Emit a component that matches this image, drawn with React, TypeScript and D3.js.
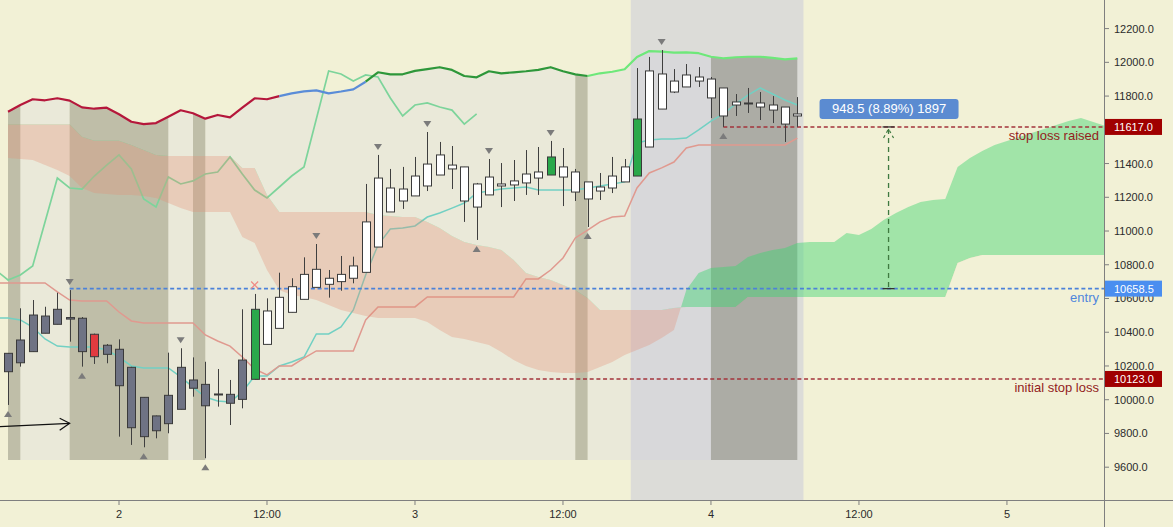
import React from 'react';
import * as d3 from 'd3';

// ---------- data ----------
// bars: one per hour, hour index 0 = day "2" 00:00
const FIRST_BAR = -9;
const opens = [10166,10219,10285,10394,10447,10487,10483,10388,10269,10299,10192,10014,9816,9858,9943,10117,10091,10034,10032,10002,10121,10328,10423,10518,10595,10666,10720,10700,10720,10755,10905,11113,11178,11208,11267,11332,11391,11380,11279,11214,11267,11273,11285,11314,11332,11380,11350,11291,11237,11255,11291,11326,11498,11723,11824,11854,11889,11901,11848,11765,11759,11759,11747,11735,11682];
const highs = [10275,10542,10591,10551,10634,10650,10490,10392,10330,10358,10195,10016,9906,10279,10305,10251,10225,10182,10117,10536,10627,10601,10753,10720,10844,10923,10769,10852,10848,11279,11451,11368,11380,11439,11587,11528,11504,11380,11285,11427,11403,11421,11480,11498,11534,11492,11368,11291,11344,11439,11427,11966,12032,12073,11960,11990,11972,11913,11848,11812,11848,11824,11800,11735,11794];
const lows = [9969,10196,10285,10394,10447,10344,10196,10212,10216,9781,9732,9718,9771,9801,9943,10018,9653,9959,9850,9949,10121,10328,10423,10518,10595,10666,10605,10646,10690,10755,10905,11113,11131,11208,11237,11332,11249,11054,10947,11214,11142,11178,11214,11214,11332,11148,11178,11024,11184,11225,11291,11326,11498,11723,11818,11854,11854,11670,11617,11682,11700,11658,11640,11528,11617];
const closes = [10275,10354,10502,10496,10536,10478,10285,10255,10323,10083,9834,9781,9904,10026,10192,10068,9964,10028,9979,10235,10536,10526,10607,10670,10743,10773,10684,10743,10793,11054,11314,11255,11249,11326,11397,11451,11368,11178,11142,11320,11279,11297,11338,11350,11439,11320,11231,11190,11261,11326,11380,11664,11949,11931,11889,11925,11913,11789,11682,11747,11756,11735,11717,11634,11694];
// d = grey, r = red, g = green, w = white
const barColorCodes = 'dddddddrddddddddddddgwwwwwwwwwwwwwwwwwwwwwwwgwwwwwwgwwwwwwwwwwwww';

// thick upper line (same bars)
const upperLine = [11707,11747,11781,11775,11787,11773,11733,11725,11731,11692,11648,11634,11640,11678,11716,11698,11666,11688,11674,11731,11787,11781,11800,11816,11828,11834,11816,11827,11840,11885,11941,11929,11929,11949,11960,11971,11955,11919,11911,11947,11935,11941,11947,11955,11971,11947,11929,11919,11935,11944,11959,12032,12067,12063,12057,12059,12054,12033,12024,12030,12033,12033,12026,12018,12024];
// r crimson, b blue, g dark green, l light green (segment starting at the point)
const upperLineCodes = 'rrrrrrrrrrrrrrrrrrrrrrbbbbbbbggggggggggggggggggllllllllllllllllll';
// zone under the upper line: L light, D dark band, G dark grey (segment starting at point)
const zoneCodes = 'DLLLLDDDDDDDDLLDLLLLLLLLLLLLLLLLLLLLLLLLLLLLLLDLLLLLLLLLLGGGGGGGG';
const ZONE_FLOOR = 9643;

// Ichimoku lines, starting one bar earlier
const LINE_FIRST = -10;
const tenkan = [10484,10484,10473,10431,10360,10318,10312,10312,10312,10295,10253,10200,10188,10188,10188,10135,10075,10016,9992,9986,10046,10141,10141,10200,10224,10253,10390,10390,10431,10532,10739,10917,11012,11018,11030,11083,11107,11136,11166,11225,11237,11249,11255,11261,11243,11243,11243,11243,11255,11267,11279,11291,11522,11540,11546,11546,11551,11599,11652,11694,11753,11806,11848,11812,11777,11747];
const kijun = [10692,10692,10692,10692,10692,10639,10591,10585,10585,10585,10520,10467,10455,10455,10455,10455,10455,10384,10348,10318,10253,10182,10147,10200,10200,10247,10289,10289,10289,10289,10473,10550,10550,10550,10550,10609,10609,10609,10609,10609,10609,10609,10609,10716,10716,10769,10840,10959,11006,11054,11083,11089,11255,11344,11374,11409,11492,11510,11510,11510,11510,11510,11510,11510,11510,11551];
const chikou = [10769,10710,10739,10793,11054,11314,11255,11249,11326,11391,11451,11368,11190,11142,11320,11279,11297,11338,11350,11439,11338,11243,11196,11261,11326,11380,11664,11949,11931,11889,11925,11913,11789,11682,11747,11759,11735,11717,11634,11694];

// cloud, from bar -9 to 81
const CLOUD_FIRST = -9;
const spanA = [11433,11427,11421,11391,11362,11326,11255,11225,11219,11214,11214,11208,11196,11166,11136,11113,11113,11113,11113,10965,10929,10769,10650,10621,10609,10591,10561,10532,10514,10496,10484,10484,10484,10484,10461,10413,10372,10360,10342,10324,10283,10235,10200,10176,10164,10158,10158,10164,10194,10224,10265,10295,10324,10366,10413,10650,10751,10781,10787,10793,10846,10870,10887,10899,10929,10935,10935,10935,10988,10976,11012,11065,11107,11142,11172,11184,11190,11380,11433,11474,11510,11534,11557,11581,11605,11628,11652,11670,11646,11623,11611];
const spanB = [11633,11633,11633,11633,11633,11633,11559,11535,11535,11535,11510,11480,11451,11445,11445,11445,11445,11445,11445,11374,11374,11214,11113,11113,11113,11113,11113,11113,11113,11113,11095,11089,11083,11083,11054,11018,10970,10935,10917,10905,10887,10828,10751,10727,10710,10680,10650,10603,10532,10532,10532,10532,10532,10532,10544,10550,10550,10550,10550,10550,10609,10609,10609,10609,10609,10609,10609,10609,10609,10609,10609,10609,10609,10609,10609,10609,10609,10810,10840,10858,10858,10858,10858,10858,10858,10858,10858,10858,10858,10858,10858];

const pivotHighBars = [-4, 5, 16, 21, 25, 30, 35, 44];
const pivotLowBars = [-9, -3, 2, 7, 29, 38, 49];
const crossBar = 11;
const crossPrice = 10680;

const levelPrices = [11617, 10658.5, 10123];
const levelStartBars = [49, -4, 11];
const levelNames = ['stop loss raised', 'entry', 'initial stop loss'];
const levelTags = ['11617.0', '10658.5', '10123.0'];
const levelColors = ['#a3333b', '#4c82d9', '#a3333b'];
const levelTextColors = ['#931d1d', '#4f86dc', '#931d1d'];
const levelTagColors = ['#a00000', '#4a8ef0', '#a00000'];

const measureHour = 62.4;
const measureLabel = '948.5 (8.89%) 1897';

const arrowFrom = [-9.7, 9840];
const arrowTo = [-4, 9860];

const priceTicks = [9600, 9800, 10000, 10200, 10400, 10600, 10800, 11000, 11200, 11400, 11600, 11800, 12000, 12200];
const priceTickShown = [true, true, true, true, true, true, true, true, true, true, false, true, true, true];
const timeTicks = [0, 12, 24, 36, 48, 60, 72];
const timeTickLabels = ['2', '12:00', '3', '12:00', '4', '12:00', '5'];

// ---------- layout ----------
const W = 1173;
const H = 527;
const PW = 1104;
const PH = 500;
const FONT = '"Liberation Sans", Arial, sans-serif';

const candleFill: Record<string, string> = { d: '#6f7384', r: '#e23a3f', g: '#2aa84b', w: '#ffffff' };
const upperColors: Record<string, string> = { r: '#b5173b', b: '#5a8cd8', g: '#2e973a', l: '#6ee87a' };
const zoneFills: Record<string, string> = {
  L: 'rgba(205,204,228,0.22)',
  D: 'rgba(100,99,86,0.36)',
  G: 'rgba(105,105,96,0.42)',
};

function groups(codes: string, nSeg: number) {
  const out: { code: string; from: number; to: number }[] = [];
  let start = 0;
  for (let i = 1; i <= nSeg; i++) {
    if (i === nSeg || codes[i] !== codes[start]) {
      out.push({ code: codes[start], from: start, to: i });
      start = i;
    }
  }
  return out;
}

export default function App() {
  const x = d3.scaleLinear().domain([-9.65, 79.87]).range([0, PW]);
  const y = d3.scaleLinear().domain([9405.5, 12369.5]).range([PH, 0]);

  const bars = opens.map((o, i) => ({
    k: FIRST_BAR + i,
    o,
    h: highs[i],
    l: lows[i],
    c: closes[i],
    col: barColorCodes[i],
  }));

  const lineGen = (first: number) =>
    d3
      .line<number>()
      .x((_, i) => x(first + i))
      .y((v) => y(v));

  // zones under upper line
  const zoneGroups = groups(zoneCodes, upperLine.length - 1);
  const zoneArea = d3
    .area<number>()
    .x((i) => x(FIRST_BAR + i))
    .y0(() => y(ZONE_FLOOR))
    .y1((i) => y(upperLine[i]));

  const upperGroups = groups(upperLineCodes, upperLine.length - 1);
  const upperSeg = d3
    .line<number>()
    .x((i) => x(FIRST_BAR + i))
    .y((i) => y(upperLine[i]));

  // cloud
  const idx = spanA.map((_, i) => i);
  const cloudArea = d3
    .area<number>()
    .x((i) => x(CLOUD_FIRST + i))
    .y0((i) => y(spanA[i]))
    .y1((i) => y(spanB[i]))(idx) as string;
  const aboveB = d3
    .area<number>()
    .x((i) => x(CLOUD_FIRST + i))
    .y0(() => -10)
    .y1((i) => y(spanB[i]))(idx) as string;
  const belowB = d3
    .area<number>()
    .x((i) => x(CLOUD_FIRST + i))
    .y0((i) => y(spanB[i]))
    .y1(() => PH + 10)(idx) as string;

  const greyFrom = x(41.5);
  const greyTo = x(55.5);

  const barAt = (k: number) => bars[k - FIRST_BAR];

  const mx = x(measureHour);
  const myTop = y(levelPrices[0]);
  const myBot = y(levelPrices[1]);

  return (
    <div style={{ position: 'absolute', left: 0, top: 0 }}>
      <svg width={W} height={H} style={{ display: 'block' }} fontFamily={FONT}>
        <defs>
          <clipPath id="plot">
            <rect x={0} y={0} width={PW} height={PH} />
          </clipPath>
          <clipPath id="aboveB">
            <path d={aboveB} />
          </clipPath>
          <clipPath id="belowB">
            <path d={belowB} />
          </clipPath>
        </defs>
        <rect x={0} y={0} width={W} height={H} fill="#f2f1d6" />
        <g clipPath="url(#plot)">
          <rect x={greyFrom} y={0} width={greyTo - greyFrom} height={PH} fill="#dcdcd8" />
          {zoneGroups.map((g, i) => (
            <path
              key={'z' + i}
              d={zoneArea(d3.range(g.from, g.to + 1)) as string}
              fill={zoneFills[g.code]}
            />
          ))}
          <path d={lineGen(LINE_FIRST)(tenkan) as string} fill="none" stroke="#72d0c3" strokeWidth={1.5} />
          <path d={lineGen(LINE_FIRST)(kijun) as string} fill="none" stroke="#e0998f" strokeWidth={1.5} />
          <path d={lineGen(LINE_FIRST)(chikou) as string} fill="none" stroke="#7dd49b" strokeWidth={1.7} />
          <path d={cloudArea} fill="rgba(226,142,118,0.32)" clipPath="url(#belowB)" />
          <path d={cloudArea} fill="rgba(62,212,112,0.45)" clipPath="url(#aboveB)" />
          {upperGroups.map((g, i) => (
            <path
              key={'u' + i}
              d={upperSeg(d3.range(g.from, g.to + 1)) as string}
              fill="none"
              stroke={upperColors[g.code]}
              strokeWidth={2.2}
              strokeLinejoin="round"
            />
          ))}
          {levelPrices.map((p, i) => (
            <line
              key={'lv' + i}
              x1={x(levelStartBars[i])}
              x2={PW}
              y1={y(p)}
              y2={y(p)}
              stroke={levelColors[i]}
              strokeWidth={1.6}
              strokeDasharray="4 2.7"
            />
          ))}
          {bars.map((b) => {
            const cx = Math.round(x(b.k)) + 0.5;
            const top = y(Math.max(b.o, b.c));
            const bot = y(Math.min(b.o, b.c));
            return (
              <g key={'b' + b.k}>
                <line x1={cx} x2={cx} y1={y(b.h)} y2={y(b.l)} stroke="#3f3f3f" strokeWidth={1} />
                <rect
                  x={cx - 4}
                  y={top}
                  width={8}
                  height={Math.max(1, bot - top)}
                  fill={candleFill[b.col]}
                  stroke="#3a3a3a"
                  strokeWidth={1}
                />
              </g>
            );
          })}
          {pivotHighBars.map((k) => {
            const b = barAt(k);
            const cx = x(k);
            const cy = y(b.h) - 8;
            return <path key={'ph' + k} d={`M${cx - 4},${cy - 3}L${cx + 4},${cy - 3}L${cx},${cy + 3}Z`} fill="#7b7b7b" />;
          })}
          {pivotLowBars.map((k) => {
            const b = barAt(k);
            const cx = x(k);
            const cy = y(b.l) + 9;
            return <path key={'pl' + k} d={`M${cx - 4},${cy + 3}L${cx + 4},${cy + 3}L${cx},${cy - 3}Z`} fill="#7b7b7b" />;
          })}
          <g stroke="#f08a84" strokeWidth={1.2}>
            <line x1={x(crossBar) - 3.5} x2={x(crossBar) + 3.5} y1={y(crossPrice) - 3.5} y2={y(crossPrice) + 3.5} />
            <line x1={x(crossBar) - 3.5} x2={x(crossBar) + 3.5} y1={y(crossPrice) + 3.5} y2={y(crossPrice) - 3.5} />
          </g>
          <g stroke="#111" strokeWidth={1.2} fill="none">
            <line x1={x(arrowFrom[0])} y1={y(arrowFrom[1])} x2={x(arrowTo[0])} y2={y(arrowTo[1])} />
            <path
              d={`M${x(arrowTo[0]) - 10},${y(arrowTo[1]) - 5}L${x(arrowTo[0])},${y(arrowTo[1])}L${x(arrowTo[0]) - 10},${y(arrowTo[1]) + 7}`}
            />
          </g>
          {/* measurement */}
          <line x1={mx} x2={mx} y1={myTop + 2} y2={myBot} stroke="#3f7a40" strokeWidth={1.3} strokeDasharray="5 4" />
          <line x1={mx - 6} x2={mx + 6} y1={myTop} y2={myTop} stroke="#333" strokeWidth={1.3} />
          <line x1={mx - 6} x2={mx + 6} y1={myBot} y2={myBot} stroke="#333" strokeWidth={1.3} />
          <path
            d={`M${mx - 5},${myTop + 11}L${mx},${myTop + 2}L${mx + 5},${myTop + 11}`}
            fill="none"
            stroke="#3f7a40"
            strokeWidth={1.2}
            strokeDasharray="3 3"
          />
          <rect x={mx - 69} y={myTop - 28} width={139} height={20} rx={3} fill="#5b8bd1" />
          <text x={mx + 0.5} y={myTop - 13.5} textAnchor="middle" fontSize={13} fill="#ffffff">
            {measureLabel}
          </text>
          {levelPrices.map((p, i) => (
            <text key={'lt' + i} x={PW - 5} y={y(p) + 13} textAnchor="end" fontSize={13} fill={levelTextColors[i]}>
              {levelNames[i]}
            </text>
          ))}
        </g>
        {/* axes */}
        <line x1={0} x2={W} y1={PH + 0.5} y2={PH + 0.5} stroke="#7f7f7f" strokeWidth={1} />
        <line x1={PW + 0.5} x2={PW + 0.5} y1={0} y2={H} stroke="#7f7f7f" strokeWidth={1} />
        {priceTicks.map((p, i) => (
          <g key={'pt' + p}>
            <line x1={PW} x2={PW + 5} y1={y(p)} y2={y(p)} stroke="#7f7f7f" />
            {priceTickShown[i] && (
              <text x={PW + 10} y={y(p) + 4} fontSize={11} fill="#2b2b2b">
                {p.toFixed(1)}
              </text>
            )}
          </g>
        ))}
        {timeTicks.map((t, i) => (
          <g key={'tt' + t}>
            <line x1={x(t)} x2={x(t)} y1={PH} y2={PH + 5} stroke="#7f7f7f" />
            <text x={x(t)} y={PH + 18} fontSize={11} textAnchor="middle" fill="#2b2b2b">
              {timeTickLabels[i]}
            </text>
          </g>
        ))}
        {levelPrices.map((p, i) => (
          <g key={'tag' + i}>
            <rect x={PW + 1} y={y(p) - 8} width={57} height={16} fill={levelTagColors[i]} />
            <text x={PW + 10} y={y(p) + 4} fontSize={11} fill="#ffffff">
              {levelTags[i]}
            </text>
          </g>
        ))}
      </svg>
    </div>
  );
}
